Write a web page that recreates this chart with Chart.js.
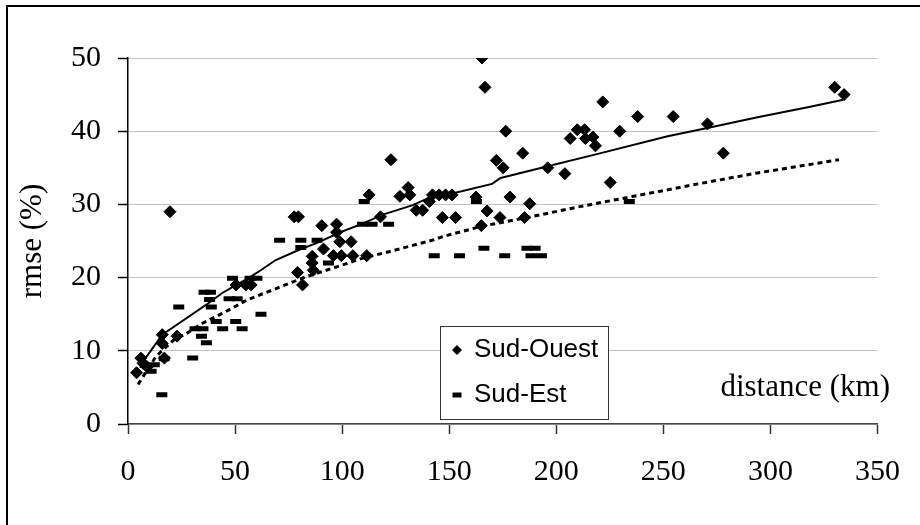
<!DOCTYPE html>
<html>
<head>
<meta charset="utf-8">
<script src="https://cdn.jsdelivr.net/npm/chart.js@4.4.1/dist/chart.umd.min.js"></script>
<style>
  html, body { margin: 0; padding: 0; background: #fff; }
  canvas { display: block; }
</style>
</head>
<body>
<canvas id="rmseChart" width="920" height="525"></canvas>
<script>
// DATA (distance km, rmse %)

const sudOuest = [
  [4, 7], [6, 9], [7, 8.3], [9, 7.8], [16, 12.2], [16, 11], [17, 9], [19.6, 29], [22.9, 12],
  [50.5, 19], [55, 19], [57.5, 19],
  [77.6, 28.3], [79.6, 28.3], [79.2, 20.7], [81.5, 19], [86, 22.9], [86, 22], [86.5, 21],
  [90.5, 27.1], [91.3, 23.9], [95.9, 23], [97.4, 27.3], [97.4, 26.2], [98.9, 24.9], [99.6, 23],
  [104.2, 24.9], [105, 23], [111.5, 23],
  [112.6, 31.3], [117.9, 28.3], [122.8, 36.1], [127, 31.1], [130.8, 32.3], [131.6, 31.3],
  [134.6, 29.2], [137.6, 29.2], [140.7, 30.4],
  [142.2, 31.3], [145.3, 31.3], [146.8, 28.2], [148.3, 31.3], [151.3, 31.3], [153, 28.2],
  [162.5, 31], [165, 27.1], [165.3, 50], [166.7, 46], [167.7, 29.1], [172, 36], [173.7, 28.2], [175.2, 35],
  [176.4, 40], [178.4, 31], [184.3, 37], [185.2, 28.2], [187.6, 30.1], [196, 35],
  [204, 34.2], [206.5, 39], [209.8, 40.2], [213.2, 40.2], [213.6, 39], [217.1, 39.2], [218.3, 38],
  [221.7, 44], [225.2, 33], [229.6, 40], [238, 42], [254.6, 42], [270.6, 41], [278, 37],
  [330, 46], [334.4, 45]
];

const sudEst = [
  [8, 8], [10.8, 7.2], [12.3, 8.1], [15.8, 4], [16.9, 8.9], [23.7, 16], [30.2, 9],
  [31.3, 13], [35, 13], [34.3, 12], [36.6, 11.1], [35.5, 18], [38.5, 18], [38.1, 17], [38.9, 16],
  [41.2, 14], [44.2, 13], [47.2, 17.1], [51, 17.1], [48.8, 19.9], [50.3, 14], [53.3, 13],
  [57, 19.9], [60.2, 19.9], [62.1, 15], [70.8, 25.1], [80.7, 25.1], [80.7, 24.1], [88.3, 25.1], [93.6, 22],
  [109.5, 27.3], [110.3, 30.4], [114, 27.3], [121.7, 27.3],
  [143, 23], [154.8, 23], [162.7, 30.4], [166.2, 24], [175.9, 23],
  [186.3, 24], [190.1, 24], [188.2, 23], [193.1, 23], [234.1, 30.4]
];

// fitted curves
const fitOuest = [
  [7.7, 8.8], [16, 12.2], [24, 13.8], [36.6, 16.3], [44, 17.9], [56, 19.9], [62, 21], [69, 22.4],
  [80, 23.8], [88, 24.7], [100, 26.3], [109, 27.3], [119, 28.6], [133, 29.9], [142, 31.1],
  [150, 31.4], [170, 32.8], [174, 33.6], [196, 35.2], [218, 36.8], [252, 39.3],
  [270, 40.4], [294, 41.9], [318, 43.3], [334, 44.3]
];

const fitEst = [
  [4.7, 5.4], [13, 9.2], [21.4, 11.5], [27.5, 12.4], [35, 13.8], [44, 15.1], [56, 17], [70, 18.6],
  [82, 20], [101, 21.8], [109, 22.6], [124, 23.7], [142, 25.1], [147, 25.6], [165, 27], [188, 28.3],
  [211, 29.7], [236, 31.1], [268, 32.9], [294, 34.3], [332, 36.1]
];

const xTicks = [0, 50, 100, 150, 200, 250, 300, 350];
const yTicks = [0, 10, 20, 30, 40, 50];

const toPoints = (arr) => arr.map(p => ({ x: p[0], y: p[1] }));


// FRAME, LEGEND BOX AND AXIS NOTE

const decorations = {
  id: "decorations",
  afterDraw(chart) {
    const ctx = chart.ctx;
    ctx.save();

    // outer frame (left and top edges visible)
    ctx.strokeStyle = "#000";
    ctx.lineWidth = 2;
    ctx.beginPath();
    ctx.moveTo(7, 525);
    ctx.lineTo(7, 6);
    ctx.lineTo(920, 6);
    ctx.stroke();

    // legend
    ctx.fillStyle = "#fff";
    ctx.fillRect(440.5, 326.5, 168, 93);
    ctx.strokeStyle = "#333";
    ctx.lineWidth = 1;
    ctx.strokeRect(440.5, 326.5, 168, 93);

    const rows = [
      { ds: chart.data.datasets[0], y: 350, base: 357, opts: { pointStyle: "rectRot", radius: 4.5, borderWidth: 1 } },
      { ds: chart.data.datasets[1], y: 395, base: 402, opts: { pointStyle: "line", radius: 4.5, borderWidth: 5 } }
    ];
    rows.forEach(r => {
      ctx.fillStyle = "#000";
      ctx.strokeStyle = "#000";
      ctx.lineWidth = r.opts.borderWidth;
      Chart.helpers.drawPoint(ctx, { pointStyle: r.opts.pointStyle, radius: r.opts.radius, rotation: 0, borderWidth: r.opts.borderWidth }, 457, r.y);
      ctx.fillStyle = "#000";
      ctx.font = "26px 'Liberation Sans', Arial, sans-serif";
      ctx.textAlign = "left";
      ctx.textBaseline = "alphabetic";
      ctx.fillText(r.ds.label, 474, r.base);
    });

    // x axis title sits inside the plot
    ctx.font = "31px 'Liberation Serif', 'Times New Roman', serif";
    ctx.textAlign = "right";
    ctx.fillText("distance (km)", 890, 396);

    ctx.restore();
  }
};


// SCATTER CHART

const rmseChart = document.getElementById("rmseChart");

new Chart(rmseChart, {
  type: "scatter",
  data: {
    datasets: [
      {
        label: "Sud-Ouest",
        data: toPoints(sudOuest),
        pointStyle: "rectRot",
        pointRadius: 6,
        pointBackgroundColor: "#000",
        pointBorderColor: "#000",
        pointBorderWidth: 1
      },
      {
        label: "Sud-Est",
        data: toPoints(sudEst),
        pointStyle: "line",
        pointRadius: 5.5,
        pointBorderColor: "#000",
        pointBorderWidth: 5
      },
      {
        label: "fit Sud-Ouest",
        data: toPoints(fitOuest),
        showLine: true,
        borderColor: "#000",
        borderWidth: 2,
        pointRadius: 0,
        tension: 0
      },
      {
        label: "fit Sud-Est",
        data: toPoints(fitEst),
        showLine: true,
        borderColor: "#000",
        borderWidth: 3,
        borderDash: [5, 4],
        pointRadius: 0,
        tension: 0
      }
    ]
  },
  options: {
    responsive: false,
    animation: false,
    devicePixelRatio: 1,
    layout: {
      padding: { top: 58, right: 24, left: 0, bottom: 0 }
    },
    plugins: {
      legend: { display: false },
      tooltip: { enabled: false }
    },
    scales: {
      x: {
        type: "linear",
        min: 0,
        max: 350,
        afterFit: (scale) => { scale.height = 101; },
        afterBuildTicks: (scale) => { scale.ticks = xTicks.map(v => ({ value: v })); },
        border: { color: "#444", width: 1.5 },
        grid: {
          drawOnChartArea: false,
          drawTicks: true,
          tickLength: 10,
          tickColor: "#333",
          tickWidth: 1.5
        },
        ticks: {
          color: "#000",
          padding: 20,
          maxRotation: 0,
          font: { family: "'Liberation Serif', 'Times New Roman', serif", size: 30 }
        }
      },
      y: {
        type: "linear",
        min: 0,
        max: 50,
        afterFit: (scale) => { scale.width = 128; },
        afterBuildTicks: (scale) => { scale.ticks = yTicks.map(v => ({ value: v })); },
        border: { color: "#000", width: 1.5 },
        grid: {
          color: "#c4c4c4",
          lineWidth: 1,
          borderDash: [3, 3],
          drawTicks: true,
          tickLength: 10,
          tickColor: "#000",
          tickBorderDash: [],
          tickWidth: 1.5
        },
        ticks: {
          color: "#000",
          padding: 17,
          font: { family: "'Liberation Serif', 'Times New Roman', serif", size: 30 }
        },
        title: {
          display: true,
          text: "rmse (%)",
          color: "#000",
          padding: { top: 14, bottom: 0 },
          font: { family: "'Liberation Serif', 'Times New Roman', serif", size: 31 }
        }
      }
    }
  },
  plugins: [decorations]
});
</script>
</body>
</html>
